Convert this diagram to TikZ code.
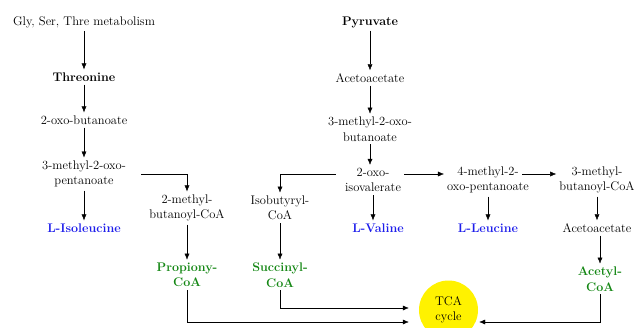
\documentclass[tikz,border=0pt]{standalone}
\usepackage{tikz}
\usetikzlibrary{arrows.meta, positioning}
\definecolor{aminoblue}{RGB}{30,30,235}
\definecolor{coagreen}{RGB}{20,135,20}

\begin{document}
\begin{tikzpicture}[
    x=1pt, y=-1pt,
    every node/.style={align=center, inner sep=3pt, font=\fontsize{12.5}{15.5}\selectfont},
    bold_node/.style={font=\fontsize{12.5}{15.5}\selectfont\bfseries},
    amino_node/.style={bold_node, text=aminoblue},
    coa_node/.style={bold_node, text=coagreen},
    tca_node/.style={circle, fill=yellow, minimum size=59pt, inner sep=0pt},
    edge/.style={-{Latex[length=6pt,width=5pt]}, thin, color=black}
]
\useasboundingbox (0,0) rectangle (635,327);

% Nodes
\node (gly) at (84,22) {Gly, Ser, Thre metabolism};
\node[bold_node] (thr) at (84,77) {Threonine};
\node (oxb) at (84,120) {2-oxo-butanoate};
\node (pent) at (84,174) {3-methyl-2-oxo-\\pentanoate};
\node[amino_node] (ile) at (84,228) {L-Isoleucine};

\node (mbut) at (187,208) {2-methyl-\\butanoyl-CoA};
\node[coa_node] (prop) at (187,275) {Propiony-\\CoA};
\node (iso) at (280,208) {Isobutyryl-\\CoA};
\node[coa_node] (succ) at (280,275) {Succinyl-\\CoA};

\node[bold_node] (pyr) at (370,22) {Pyruvate};
\node (aca) at (370,78) {Acetoacetate};
\node (mob) at (370,129) {3-methyl-2-oxo-\\butanoate};
\node (oiv) at (373,180) {2-oxo-\\isovalerate};
\node[amino_node] (val) at (378,228) {L-Valine};

\node (mop) at (488,180) {4-methyl-2-\\oxo-pentanoate};
\node[amino_node] (leu) at (488,228) {L-Leucine};

\node (mbc) at (597,180) {3-methyl-\\butanoyl-CoA};
\node (acb) at (597,228) {Acetoacetate};
\node[coa_node] (acet) at (600,279) {Acetyl-\\CoA};

\node[tca_node] (tca) at (448.5,310) {TCA\\cycle};

% Arcs
\draw[edge] (gly) -- (thr);
\draw[edge] (thr) -- (oxb);
\draw[edge] (oxb) -- (pent);
\draw[edge] (pent) -- (ile);
\draw[edge] ([xshift=12pt]pent.east) -| (mbut.north);
\draw[edge] (mbut) -- (prop);
\draw[edge] (iso) -- (succ);

\draw[edge] (pyr) -- (aca);
\draw[edge] (aca) -- (mob);
\draw[edge] (mob.south) -- (mob.south |- oiv.north);
\draw[edge] (oiv.south) -- (oiv.south |- val.north);
\draw[edge] ([xshift=-6pt,yshift=6pt]oiv.west) -| (iso.north);
\draw[edge] ([yshift=6pt]oiv.east) -- ([yshift=6pt]mop.west);
\draw[edge] (mop.south) -- (mop.south |- leu.north);
\draw[edge] ([xshift=-10pt,yshift=6pt]mop.east) -- ([yshift=6pt]mbc.west);
\draw[edge] (mbc.south) -- (mbc.south |- acb.north);
\draw[edge] (acb.south -| acet.north) -- (acet.north);

\draw[edge] (prop.south) |- ([xshift=-10pt,yshift=-12pt]tca.west);
\draw[edge] (succ.south) |- ([xshift=-10pt,yshift=2pt]tca.west);
\draw[edge] (acet.south) |- ([xshift=1pt,yshift=-12pt]tca.east);

\end{tikzpicture}
\end{document}
